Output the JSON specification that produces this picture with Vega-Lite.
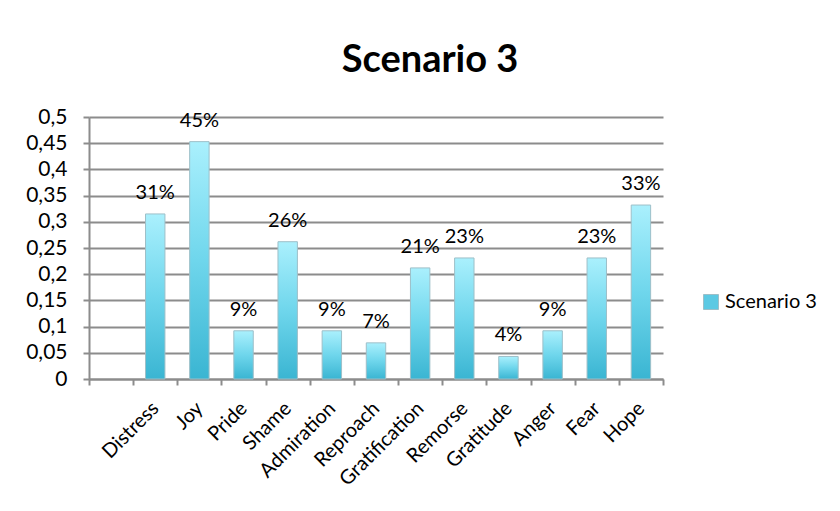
{
  "$schema": "https://vega.github.io/schema/vega-lite/v6.json",
  "autosize": "none",
  "width": 574,
  "height": 262,
  "padding": {"left": 89, "top": 117, "right": 177, "bottom": 132},
  "background": "white",
  "title": {
    "text": "Scenario 3",
    "anchor": "middle",
    "frame": "group",
    "dx": 54,
    "offset": -4,
    "baseline": "alphabetic",
    "font": "Lato",
    "fontSize": 38,
    "fontWeight": "bold",
    "color": "#000000"
  },
  "data": {
    "values": [
      {"emotion": "Distress", "value": 0.315, "label": "31%"},
      {"emotion": "Joy", "value": 0.453, "label": "45%"},
      {"emotion": "Pride", "value": 0.092, "label": "9%"},
      {"emotion": "Shame", "value": 0.262, "label": "26%"},
      {"emotion": "Admiration", "value": 0.092, "label": "9%"},
      {"emotion": "Reproach", "value": 0.069, "label": "7%"},
      {"emotion": "Gratification", "value": 0.212, "label": "21%"},
      {"emotion": "Remorse", "value": 0.231, "label": "23%"},
      {"emotion": "Gratitude", "value": 0.043, "label": "4%"},
      {"emotion": "Anger", "value": 0.092, "label": "9%"},
      {"emotion": "Fear", "value": 0.231, "label": "23%"},
      {"emotion": "Hope", "value": 0.332, "label": "33%"}
    ]
  },
  "encoding": {
    "x": {
      "field": "emotion",
      "type": "nominal",
      "sort": null,
      "scale": {
        "domain": [" ", "Distress", "Joy", "Pride", "Shame", "Admiration", "Reproach", "Gratification", "Remorse", "Gratitude", "Anger", "Fear", "Hope"],
        "paddingInner": 0,
        "paddingOuter": 0
      },
      "axis": {
        "title": null,
        "labelAngle": -45,
        "labelAlign": "right",
        "labelBaseline": "middle",
        "labelFont": "Lato",
        "labelFontSize": 20,
        "labelColor": "#000000",
        "labelPadding": 20,
        "tickBand": "extent",
        "tickSize": 6,
        "tickColor": "#8c8c8c",
        "tickWidth": 2,
        "domainColor": "#8c8c8c",
        "domainWidth": 2,
        "grid": false
      }
    },
    "y": {
      "field": "value",
      "type": "quantitative",
      "scale": {"domain": [0, 0.5], "nice": false},
      "axis": {
        "title": null,
        "values": [0, 0.05, 0.1, 0.15, 0.2, 0.25, 0.3, 0.35, 0.4, 0.45, 0.5],
        "labelExpr": "replace(format(datum.value, '.2~f'), '.', ',')",
        "labelFont": "Lato",
        "labelFontSize": 21,
        "labelColor": "#000000",
        "labelPadding": 16,
        "tickSize": 6,
        "tickColor": "#8c8c8c",
        "tickWidth": 2,
        "domainColor": "#8c8c8c",
        "domainWidth": 2,
        "grid": true,
        "gridColor": "#8c8c8c",
        "gridWidth": 2
      }
    }
  },
  "layer": [
    {
      "mark": {
        "type": "bar",
        "width": {"band": 0.44},
        "stroke": "#9dbfc8",
        "strokeWidth": 1,
        "color": {
          "gradient": "linear",
          "x1": 0, "y1": 0, "x2": 0, "y2": 1,
          "stops": [
            {"offset": 0, "color": "#aaf0fd"},
            {"offset": 0.5, "color": "#6fd6ec"},
            {"offset": 1, "color": "#3ab5d2"}
          ]
        }
      }
    },
    {
      "mark": {"type": "bar", "width": {"band": 0.44}, "opacity": 0},
      "encoding": {
        "color": {
          "datum": "Scenario 3",
          "scale": {"range": ["#5cc9e3"]},
          "legend": {
            "title": null,
            "orient": "none",
            "legendX": 612,
            "legendY": 175,
            "symbolType": "square",
            "symbolSize": 225,
            "symbolOpacity": 1,
            "symbolStrokeColor": "#9dbfc8",
            "symbolStrokeWidth": 1,
            "labelFont": "Lato",
            "labelFontSize": 20,
            "labelColor": "#000000",
            "labelOffset": 4
          }
        }
      }
    },
    {
      "mark": {
        "type": "text",
        "baseline": "alphabetic",
        "dy": -15,
        "font": "Lato",
        "fontSize": 20,
        "color": "#000000"
      },
      "encoding": {
        "text": {"field": "label"}
      }
    }
  ],
  "config": {
    "view": {"stroke": null}
  }
}
